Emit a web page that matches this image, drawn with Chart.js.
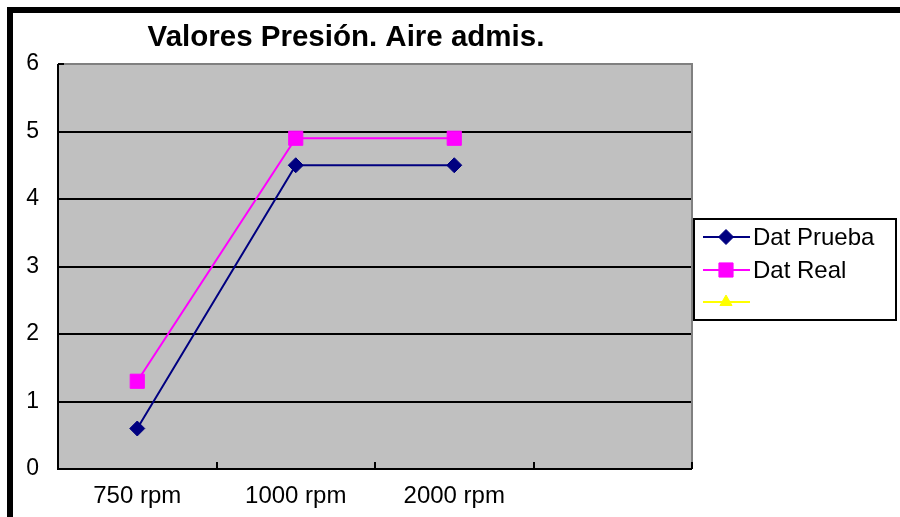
<!DOCTYPE html>
<html>
<head>
<meta charset="utf-8">
<script src="https://cdn.jsdelivr.net/npm/chart.js@4/dist/chart.umd.min.js"></script>
<style>
  html, body { margin: 0; padding: 0; background: #ffffff; }
  #wrap { position: relative; width: 900px; height: 517px; }
</style>
</head>
<body>
<div id="wrap"><canvas id="chart" width="900" height="517"></canvas></div>
<script>
// Presión del aire de admisión por régimen de giro
const categories = ['750 rpm', '1000 rpm', '2000 rpm', ''];
const datPrueba = [0.6, 4.5, 4.5, null];
const datReal = [1.3, 4.9, 4.9, null];
const serie3 = [null, null, null, null];
const yTicks = [0, 1, 2, 3, 4, 5, 6];

const FONT = '"Liberation Sans", Arial, sans-serif';

// Plot background, frame, inner tick marks and the boxed legend
const excelStyle = {
  id: 'excelStyle',
  beforeDraw(chart) {
    const { ctx, chartArea: a } = chart;
    ctx.save();
    ctx.fillStyle = '#ffffff';
    ctx.fillRect(0, 0, chart.width, chart.height);
    // outer black frame (top and left)
    ctx.fillStyle = '#000000';
    ctx.fillRect(7, 7, chart.width - 7, 6);
    ctx.fillRect(7, 7, 6, chart.height - 7);
    // plot area
    ctx.fillStyle = '#c0c0c0';
    ctx.fillRect(a.left, a.top, a.right - a.left, a.bottom - a.top);
    ctx.restore();
  },
  beforeDatasetsDraw(chart) {
    const { ctx, chartArea: a, scales } = chart;
    ctx.save();
    // gray top/right border
    ctx.strokeStyle = '#808080';
    ctx.lineWidth = 2;
    ctx.beginPath();
    ctx.moveTo(a.left, a.top);
    ctx.lineTo(a.right, a.top);
    ctx.lineTo(a.right, a.bottom);
    ctx.stroke();
    // x tick marks between categories, pointing inward
    ctx.strokeStyle = '#000000';
    ctx.lineWidth = 2;
    const xs = scales.x;
    ctx.beginPath();
    for (let i = 1; i <= categories.length; i++) {
      const x = i < categories.length
        ? (xs.getPixelForValue(i - 1) + xs.getPixelForValue(i)) / 2
        : a.right;
      ctx.moveTo(Math.round(x), a.bottom);
      ctx.lineTo(Math.round(x), a.bottom - 7);
    }
    // y tick marks, pointing inward
    const ys = scales.y;
    yTicks.forEach(v => {
      const y = Math.round(ys.getPixelForValue(v));
      ctx.moveTo(a.left, y);
      ctx.lineTo(a.left + 6, y);
    });
    ctx.stroke();
    // axes
    ctx.beginPath();
    ctx.moveTo(a.left, a.top);
    ctx.lineTo(a.left, a.bottom);
    ctx.lineTo(a.right, a.bottom);
    ctx.stroke();
    ctx.restore();
  },
  afterDraw(chart) {
    const { ctx } = chart;
    ctx.save();
    const bx = 694, by = 219, bw = 202, bh = 101;
    ctx.fillStyle = '#ffffff';
    ctx.fillRect(bx, by, bw, bh);
    ctx.strokeStyle = '#000000';
    ctx.lineWidth = 2;
    ctx.strokeRect(bx, by, bw, bh);
    const rows = [237, 270, 302];
    chart.data.datasets.forEach((ds, i) => {
      const y = rows[i];
      ctx.strokeStyle = ds.borderColor;
      ctx.lineWidth = 2;
      ctx.beginPath();
      ctx.moveTo(703, y);
      ctx.lineTo(750, y);
      ctx.stroke();
      ctx.fillStyle = ds.backgroundColor;
      ctx.strokeStyle = ds.borderColor;
      ctx.lineWidth = 1;
      Chart.helpers.drawPoint(ctx, {
        pointStyle: ds.pointStyle,
        radius: ds.pointRadius,
        borderWidth: 1
      }, 726, y);
      ctx.fillStyle = '#000000';
      ctx.font = '24px ' + FONT;
      ctx.textBaseline = 'middle';
      ctx.textAlign = 'left';
      ctx.fillText(ds.label, 753, y + 1);
    });
    ctx.restore();
  }
};

const chart = new Chart(document.getElementById('chart'), {
  type: 'line',
  data: {
    labels: categories,
    datasets: [
      {
        label: 'Dat Prueba',
        data: datPrueba,
        borderColor: '#000080',
        backgroundColor: '#000080',
        borderWidth: 2,
        pointStyle: 'rectRot',
        pointRadius: 7.5,
        pointBorderWidth: 1,
        tension: 0
      },
      {
        label: 'Dat Real',
        data: datReal,
        borderColor: '#ff00ff',
        backgroundColor: '#ff00ff',
        borderWidth: 2,
        pointStyle: 'rect',
        pointRadius: 10,
        pointBorderWidth: 1,
        tension: 0
      },
      {
        label: '',
        data: serie3,
        borderColor: '#ffff00',
        backgroundColor: '#ffff00',
        borderWidth: 2,
        pointStyle: 'triangle',
        pointRadius: 7,
        pointBorderWidth: 1,
        tension: 0
      }
    ]
  },
  options: {
    responsive: false,
    animation: false,
    layout: { padding: { left: 0, right: 208, top: 0, bottom: 0 } },
    plugins: {
      legend: { display: false },
      tooltip: { enabled: false },
      title: {
        display: true,
        text: 'Valores Presión. Aire admis.',
        color: '#000000',
        font: { family: FONT, size: 29.5, weight: 'bold', lineHeight: 1.2 },
        padding: { top: 20, bottom: 8.6 }
      }
    },
    scales: {
      x: {
        type: 'category',
        offset: true,
        grid: { display: false, drawTicks: false },
        border: { display: false },
        ticks: {
          color: '#000000',
          font: { family: FONT, size: 24 },
          padding: 13,
          maxRotation: 0,
          autoSkip: false
        },
        afterFit(s) { s.height = 48; }
      },
      y: {
        min: 0,
        max: 6,
        afterBuildTicks(s) { s.ticks = yTicks.map(v => ({ value: v })); },
        grid: {
          drawTicks: false,
          color: ctx => (ctx.tick && ctx.tick.value > 0 && ctx.tick.value < 6) ? '#000000' : 'rgba(0,0,0,0)',
          lineWidth: 2
        },
        border: { display: false },
        ticks: {
          color: '#000000',
          font: { family: FONT, size: 23 },
          padding: 19
        },
        afterFit(s) { s.width = 58; }
      }
    }
  },
  plugins: [excelStyle]
});
</script>
</body>
</html>
